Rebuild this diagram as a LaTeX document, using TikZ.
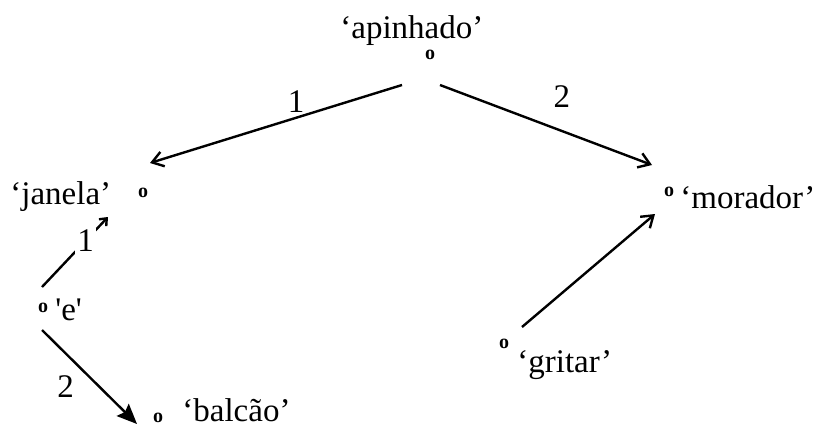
\documentclass[tikz,border=0pt]{standalone}
\usepackage{fontspec}
\setmainfont{Liberation Serif}
\newfontfamily\straightquotes{Liberation Serif}
\usetikzlibrary{arrows.meta}

\tikzset{
  dot/.style={inner sep=0pt, font=\fontsize{10}{10}\selectfont\bfseries},
  word/.style={inner sep=0pt, anchor=base west},
  edgelab/.style={inner sep=2pt},
  rel/.style={line width=1.2pt, -{Straight Barb[length=5.5pt,width=7.5pt]}},
  relsmall/.style={line width=1.2pt, -{Straight Barb[length=3pt,width=5pt]}},
  relfilled/.style={line width=1.2pt, -{Stealth[length=10pt,width=8.5pt,inset=1.5pt]}}
}

\begin{document}
\begin{tikzpicture}[x=0.5pt,y=-0.5pt,font=\fontsize{16.5}{20}\selectfont]
    \useasboundingbox (0,0) rectangle (834,429);
    % concepts
    \node[dot] (apo) at (430,55) {o};
    \node[word] (apw) at (340,38) {‘apinhado’};
    \node[dot] (jao) at (143,193) {o};
    \node[word] (jaw) at (10,204) {‘janela’};
    \node[dot] (moo) at (669,192) {o};
    \node[word] (mow) at (680,208) {‘morador’};
    \node[dot] (gro) at (504,344) {o};
    \node[word] (grw) at (517,372) {‘gritar’};
    \node[dot] (eo) at (43,308) {o};
    \node[word] (ew) at (55,320) {\straightquotes 'e'};
    \node[dot] (bao) at (158,418) {o};
    \node[word] (baw) at (182,421) {‘balcão’};
    % free ends of the relations
    \coordinate (ap-l) at (402,85);
    \coordinate (ap-r) at (440,85);
    \coordinate (ja-in) at (150,163);
    \coordinate (mo-in) at (652,165);
    \coordinate (gr-out) at (522,327);
    \coordinate (mo-in2) at (655,214);
    \coordinate (e-up) at (42,287);
    \coordinate (ja-in2) at (108,217);
    \coordinate (e-down) at (42,330);
    \coordinate (ba-in) at (137,424);
    % relations
    \draw[rel] (ap-l) -- node[edgelab, pos=0.42, above] {1} (ja-in);
    \draw[rel] (ap-r) -- node[edgelab, pos=0.575, above=9pt] {2} (mo-in);
    \draw[rel] (gr-out) -- (mo-in2);
    \draw[relsmall] (e-up) -- node[edgelab, inner sep=1pt, fill=white, pos=0.66] {1} (ja-in2);
    \draw[relfilled] (e-down) -- node[edgelab, pos=0.6, left=10pt] {2} (ba-in);
\end{tikzpicture}
\end{document}
